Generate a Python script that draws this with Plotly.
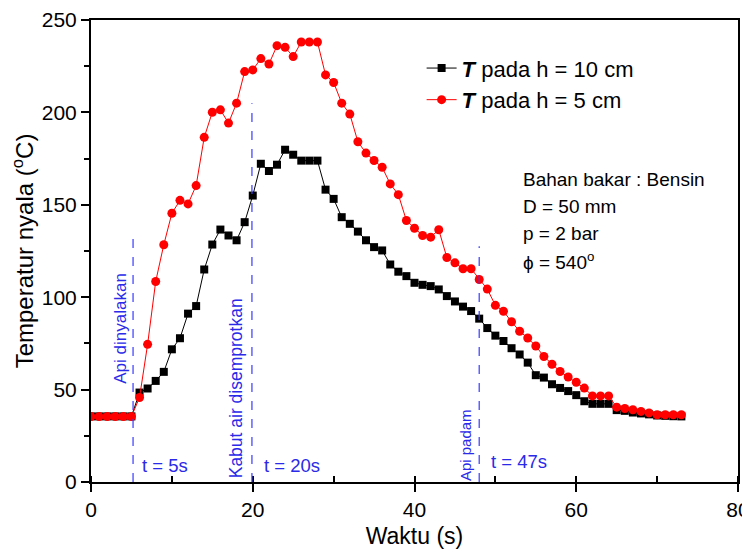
import plotly.graph_objects as go

# ---- data ----
time_s = list(range(0, 74))

temp_h10 = [35.5, 35.5, 35.5, 35.5, 35.5, 35.5, 48.4, 50.6, 54.7, 59.6,
            71.8, 77.8, 91.1, 95.2, 115.0, 128.5, 136.6, 133.4, 130.8, 140.6,
            155.0, 172.2, 168.3, 171.7, 179.8, 177.1, 173.9, 173.9, 173.9, 158.2,
            153.2, 143.3, 139.7, 135.5, 130.8, 127.1, 125.3, 117.7, 113.8, 111.4,
            107.8, 106.7, 106.0, 104.2, 100.6, 97.7, 94.9, 92.5, 88.4, 83.3,
            79.2, 76.3, 72.4, 69.0, 64.6, 57.8, 56.5, 52.9, 50.9, 49.2,
            47.0, 43.7, 42.3, 42.3, 42.3, 38.9, 38.5, 37.6, 37.1, 36.6,
            36.0, 35.8, 35.6, 35.5]

temp_h5 = [35.4, 35.4, 35.4, 35.4, 35.4, 35.4, 45.7, 74.5, 108.5, 128.4,
           145.4, 152.4, 150.5, 160.4, 186.5, 200.1, 201.4, 194.2, 205.0, 222.1,
           223.0, 229.1, 226.2, 236.1, 235.2, 230.2, 238.1, 238.1, 238.1, 220.3,
           216.2, 205.0, 199.1, 184.1, 178.0, 174.0, 170.3, 161.3, 155.5, 141.5,
           137.3, 133.4, 132.5, 136.5, 121.5, 118.6, 115.4, 115.4, 109.6, 104.4,
           95.6, 92.4, 86.7, 81.6, 77.9, 73.6, 67.9, 63.7, 59.8, 56.8,
           54.0, 50.8, 46.6, 46.6, 46.6, 40.5, 39.8, 39.1, 38.2, 37.4,
           36.4, 36.4, 36.4, 36.4]

event_t = [5.2, 19.9, 48.0]
event_top = [134, 205, 127.6]
event_names = ["Api dinyalakan", "Kabut air disemprotkan", "Api padam"]
event_labels = ["t = 5s", "t = 20s", "t = 47s"]

info_lines = ["Bahan bakar : Bensin", "D = 50 mm", "p = 2 bar", "\u03d5 = 540<sup>o</sup>"]

FONT = "Liberation Sans, Arial, sans-serif"
BLUE = "#2a2ae8"

fig = go.Figure()
fig.add_trace(go.Scatter(
    x=time_s, y=temp_h10, mode="lines+markers",
    name="<b><i>T</i></b> pada h = 10 cm",
    line=dict(color="black", width=1),
    marker=dict(symbol="square", size=8, color="black"),
))
fig.add_trace(go.Scatter(
    x=time_s, y=temp_h5, mode="lines+markers",
    name="<b><i>T</i></b> pada h = 5 cm",
    line=dict(color="#ff0000", width=1),
    marker=dict(symbol="circle", size=9, color="#ff0000"),
))

shapes = []
for xt, yt in zip(event_t, event_top):
    shapes.append(dict(type="line", xref="x", yref="y", x0=xt, x1=xt, y0=0, y1=yt,
                       line=dict(color="#3a3aff", width=1.2, dash="dash")))

annotations = []
name_pos = [(3.6, 83), (17.95, 50.8), (46.4, 20.1)]
name_size = [17, 17.5, 15]
for txt, (xa, ya), fs in zip(event_names, name_pos, name_size):
    annotations.append(dict(x=xa, y=ya, xref="x", yref="y", text=txt, showarrow=False,
                            textangle=-90, font=dict(family=FONT, size=fs, color=BLUE),
                            xanchor="center", yanchor="middle"))
label_pos = [(6.0, 8.8), (21.1, 8.8), (49.2, 11)]
for txt, (xa, ya) in zip(event_labels, label_pos):
    annotations.append(dict(x=xa, y=ya, xref="x", yref="y", text=txt, showarrow=False,
                            font=dict(family=FONT, size=18.5, color=BLUE),
                            xanchor="left", yanchor="middle"))
info_y = [163.5, 148.9, 134.3, 119.6]
for txt, ya in zip(info_lines, info_y):
    annotations.append(dict(x=53.2, y=ya, xref="x", yref="y", text=txt, showarrow=False,
                            font=dict(family=FONT, size=19, color="black"),
                            xanchor="left", yanchor="middle"))

# page body adds an 8px offset; figure sized to fill the remaining window
fig.update_layout(
    width=742, height=544,
    margin=dict(l=82.7, r=11.7, t=11.9, b=69.8, autoexpand=False),
    plot_bgcolor="white", paper_bgcolor="white",
    font=dict(family=FONT, color="black"),
    shapes=shapes, annotations=annotations,
    showlegend=True,
    legend=dict(x=0.511, y=0.941, xanchor="left", yanchor="top",
                font=dict(family=FONT, size=22, color="black"),
                bgcolor="rgba(0,0,0,0)"),
)
fig.update_xaxes(
    range=[0, 80], dtick=20, tick0=0, showgrid=False, zeroline=False, automargin=False,
    showline=True, linecolor="black", linewidth=2, mirror=True,
    ticks="outside", ticklen=8, tickwidth=1.5, tickcolor="black",
    minor=dict(dtick=10, ticks="inside", ticklen=6, tickwidth=1.5, tickcolor="black"),
    tickfont=dict(family=FONT, size=21),
    title=dict(text="Waktu (s)", font=dict(family=FONT, size=23), standoff=8),
)
fig.update_yaxes(
    range=[0, 250], dtick=50, tick0=0, showgrid=False, zeroline=False, automargin=False,
    showline=True, linecolor="black", linewidth=2, mirror=True,
    ticks="outside", ticklen=8, tickwidth=1.5, tickcolor="black",
    minor=dict(dtick=25, ticks="outside", ticklen=5, tickwidth=1.5, tickcolor="black"),
    tickfont=dict(family=FONT, size=21),
    title=dict(text="Temperatur nyala (<sup>o</sup>C)", font=dict(family=FONT, size=24), standoff=6),
)

fig.write_html("out.html")
